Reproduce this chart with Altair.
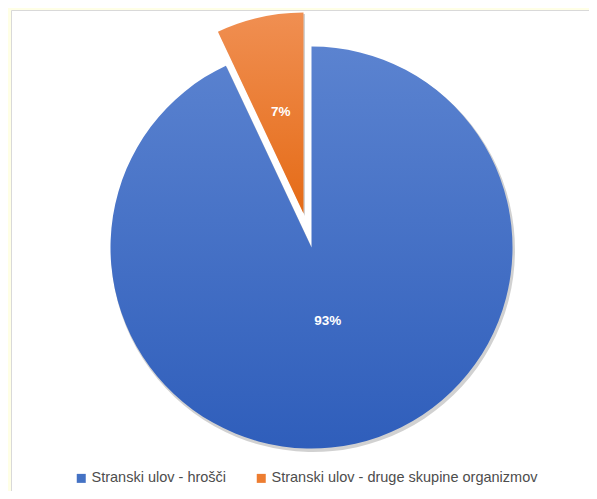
import altair as alt
import pandas as pd

categories = ["Stranski ulov - hrošči", "Stranski ulov - druge skupine organizmov"]
values = [93, 7]
labels = ["93%", "7%"]
order = [0, 1]
colors = ["#4472C4", "#ED7D31"]

df = pd.DataFrame({"cat": categories, "value": values, "label": labels, "order": order})
total = sum(values)

W, H = 581, 483
CX, CY = 303.5, 239.5
R = 201
ODX, ODY = -8, -34  # explode offset of the small slice

theta_scale = alt.Scale(domain=[0, total], range=[0, 6.283185307])
color_scale = alt.Scale(domain=categories, range=colors)

base = alt.Chart(df).transform_stack(
    stack="value", groupby=[], as_=["start", "end"], sort=[alt.SortField("order")]
).transform_calculate(mid="(datum.start + datum.end) / 2")

blue_grad = {"gradient": "linear", "x1": 0, "y1": 0, "x2": 0, "y2": 1,
             "stops": [{"offset": 0, "color": "#5B83D0"}, {"offset": 1, "color": "#2F5EBB"}]}
orange_grad = {"gradient": "linear", "x1": 0, "y1": 0, "x2": 0, "y2": 1,
               "stops": [{"offset": 0, "color": "#F08F52"}, {"offset": 1, "color": "#E56B16"}]}

bg = alt.Chart(pd.DataFrame({"a": [0]})).mark_rect(
    fill="white", stroke="#D9D9D9", strokeWidth=1
).encode(x=alt.value(3.5), x2=alt.value(W + 5), y=alt.value(2.5), y2=alt.value(H + 5))

enc = dict(theta=alt.Theta("start:Q", scale=theta_scale), theta2="end:Q")

blue_sh = base.transform_filter("datum.order == 0").mark_arc(
    outerRadius=R + 1, fill="#000000", opacity=0.18
).encode(x=alt.value(CX + 1.5), y=alt.value(CY + 2.5), **enc)
orange_sh = base.transform_filter("datum.order == 1").mark_arc(
    outerRadius=R + 1, fill="#000000", opacity=0.18
).encode(x=alt.value(CX + ODX + 1.5), y=alt.value(CY + ODY + 2.5), **enc)

blue = base.transform_filter("datum.order == 0").mark_arc(
    outerRadius=R, fill=blue_grad
).encode(x=alt.value(CX), y=alt.value(CY), **enc)
orange = base.transform_filter("datum.order == 1").mark_arc(
    outerRadius=R, fill=orange_grad
).encode(x=alt.value(CX + ODX), y=alt.value(CY + ODY), **enc)

legend_layer = base.mark_arc(outerRadius=0).encode(
    x=alt.value(CX), y=alt.value(CY), **enc,
    color=alt.Color("cat:N", scale=color_scale, sort=categories,
                    legend=alt.Legend(title=None, orient="none", direction="horizontal",
                                      legendX=66, legendY=463, symbolType="square",
                                      symbolSize=81, symbolStrokeWidth=0, symbolOpacity=1,
                                      labelFont="Liberation Sans", labelFontSize=14.5,
                                      labelColor="#4D4D4D", labelOffset=3, labelLimit=0,
                                      columnPadding=27, padding=0)),
)

txt_blue = base.transform_filter("datum.order == 0").mark_text(
    radius=75, font="Liberation Sans", fontSize=13.5, fontWeight="bold", color="white"
).encode(x=alt.value(CX), y=alt.value(CY),
         theta=alt.Theta("mid:Q", scale=theta_scale), text="label:N")
txt_orange = base.transform_filter("datum.order == 1").mark_text(
    radius=104, font="Liberation Sans", fontSize=13.5, fontWeight="bold", color="white"
).encode(x=alt.value(CX + ODX), y=alt.value(CY + ODY),
         theta=alt.Theta("mid:Q", scale=theta_scale), text="label:N")

chart = alt.layer(bg, blue_sh, orange_sh, blue, orange, legend_layer, txt_blue, txt_orange).properties(
    width=W, height=H, padding=0, autosize="none", background="#FFFFE6"
).configure_view(stroke=None)

chart.save("out.html", embed_options={"renderer": "svg", "actions": False})
